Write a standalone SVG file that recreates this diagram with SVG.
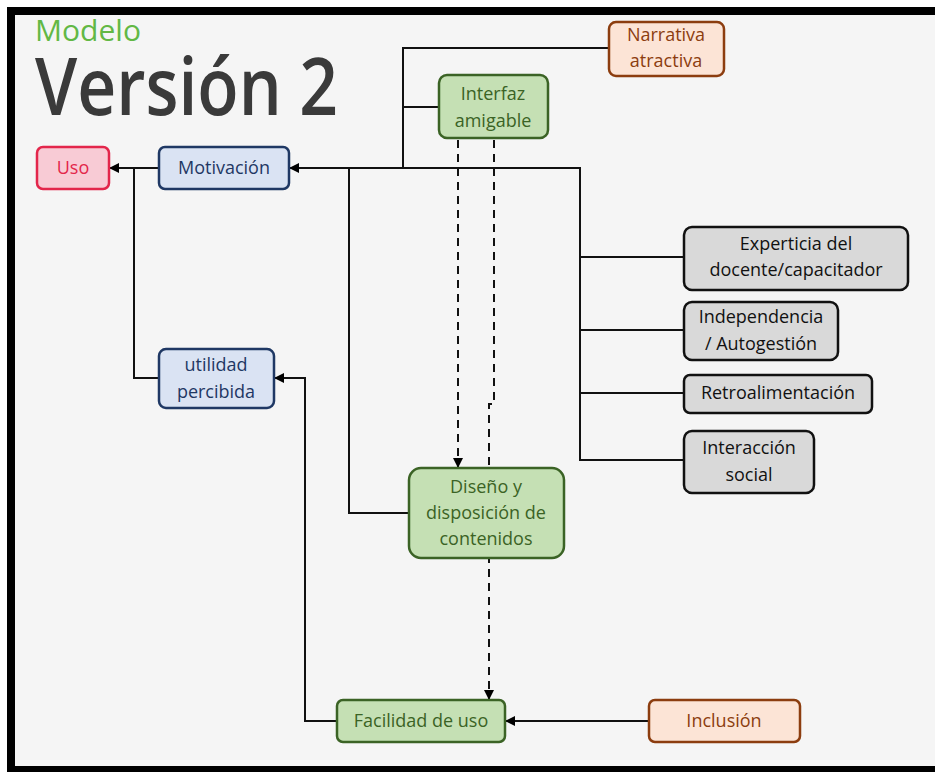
<svg xmlns="http://www.w3.org/2000/svg" width="935" height="772" viewBox="0 0 935 772">
<defs>
<marker id="arr" markerUnits="userSpaceOnUse" markerWidth="10" markerHeight="10" refX="9" refY="5" orient="auto">
<path d="M0,0 L10,5 L0,10 Z" fill="#000"/>
</marker>
<style>
.n rect{stroke-width:2.5}
.n text{font-family:"Open Sans","Liberation Sans",sans-serif;font-size:18px;font-weight:500;text-anchor:middle}
.red rect{fill:#f8cbd5;stroke:#e3264b}.red text{fill:#e3264b}
.blue rect{fill:#dae3f3;stroke:#1f3864}.blue text{fill:#1f3864}
.brown rect{fill:#fce4d6;stroke:#8c3d0f}.brown text{fill:#8c3d0f}
.green rect{fill:#c5e0b4;stroke:#3b6325}.green text{fill:#3b6325}
.gray rect{fill:#d9d9d9;stroke:#111}.gray text{fill:#111}
.c{fill:none;stroke:#111;stroke-width:2}
.d{fill:none;stroke:#111;stroke-width:2;stroke-dasharray:8,6}
</style>
</defs>
<rect x="0" y="0" width="935" height="772" fill="#ffffff"/>
<rect x="11" y="11" width="940" height="759" fill="#f5f5f5" stroke="#000" stroke-width="8"/>
<text x="35" y="41" font-family="'Open Sans','Liberation Sans',sans-serif" font-size="30" font-weight="500" fill="#62b845" textLength="106" lengthAdjust="spacingAndGlyphs">Modelo</text>
<text x="35" y="115" font-family="'Open Sans','Liberation Sans',sans-serif" font-size="80" font-weight="600" fill="#3a3a3a" textLength="303" lengthAdjust="spacingAndGlyphs">Versión 2</text>

<g id="connectors">
<path class="c" d="M159,168 H110" marker-end="url(#arr)"/>
<path class="c" d="M159,378 H134 V168"/>
<path class="c" d="M684,257 H580 V168 H290" marker-end="url(#arr)"/>
<path class="c" d="M684,330 H580"/>
<path class="c" d="M684,393 H580"/>
<path class="c" d="M684,460 H580 V257"/>
<path class="c" d="M609,48 H403 V168"/>
<path class="c" d="M439,107 H403"/>
<path class="c" d="M409,513 H349 V168"/>
<path class="d" d="M458,140 V467" marker-end="url(#arr)"/>
<path class="d" d="M494,140 V404 H489 V699" marker-end="url(#arr)"/>
<path class="c" d="M337,721 H305 V378 H275" marker-end="url(#arr)"/>
<path class="c" d="M649,721 H506" marker-end="url(#arr)"/>
</g>

<g id="uso" class="n red"><rect x="37" y="147" width="72" height="42" rx="6"/><text x="73" y="174">Uso</text></g>
<g id="motivacion" class="n blue"><rect x="159" y="147" width="130" height="42" rx="6"/><text x="224" y="174">Motivación</text></g>
<g id="narrativa" class="n brown"><rect x="609" y="22" width="115" height="54" rx="7"/><text x="666" y="41">Narrativa</text><text x="666" y="67">atractiva</text></g>
<g id="interfaz" class="n green"><rect x="439" y="75" width="109" height="63" rx="8"/><text x="493" y="100">Interfaz</text><text x="493" y="127">amigable</text></g>
<g id="experticia" class="n gray"><rect x="684" y="227" width="224" height="63" rx="8"/><text x="796" y="250">Experticia del</text><text x="796" y="276">docente/capacitador</text></g>
<g id="independencia" class="n gray"><rect x="684" y="302" width="154" height="58" rx="8"/><text x="761" y="323">Independencia</text><text x="761" y="350">/ Autogestión</text></g>
<g id="retro" class="n gray"><rect x="684" y="375" width="188" height="38" rx="6"/><text x="778" y="399">Retroalimentación</text></g>
<g id="interaccion" class="n gray"><rect x="684" y="431" width="130" height="62" rx="8"/><text x="749" y="454">Interacción</text><text x="749" y="481">social</text></g>
<g id="utilidad" class="n blue"><rect x="159" y="349" width="115" height="59" rx="7"/><text x="216" y="371">utilidad</text><text x="216" y="398">percibida</text></g>
<g id="diseno" class="n green"><rect x="409" y="468" width="155" height="90" rx="12"/><text x="486" y="493">Diseño y</text><text x="486" y="519">disposición de</text><text x="486" y="545">contenidos</text></g>
<g id="facilidad" class="n green"><rect x="337" y="700" width="168" height="42" rx="6"/><text x="421" y="727">Facilidad de uso</text></g>
<g id="inclusion" class="n brown"><rect x="649" y="700" width="151" height="42" rx="6"/><text x="724" y="727">Inclusión</text></g>
</svg>
